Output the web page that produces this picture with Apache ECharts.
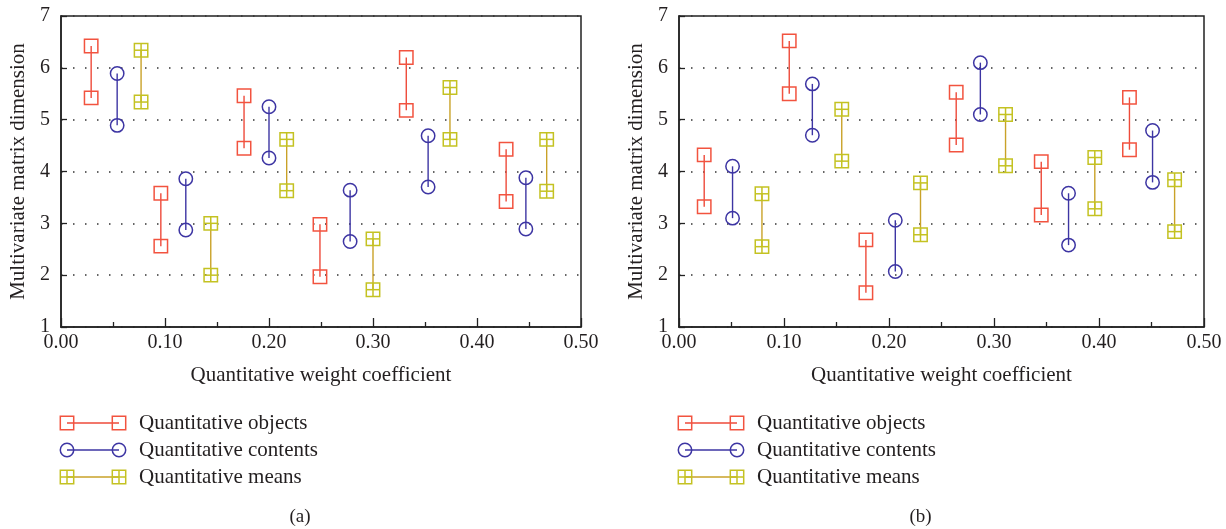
<!DOCTYPE html>
<html>
<head>
<meta charset="utf-8">
<script src="https://cdn.jsdelivr.net/npm/echarts@6/dist/echarts.min.js"></script>
<style>
  html, body { margin: 0; padding: 0; background: #fff; }
  #chart { width: 1226px; height: 529px; }
</style>
</head>
<body>
<div id="chart"></div>
<script>
// panel (a)
const objX_a  = [0.029, 0.096, 0.176, 0.249, 0.332, 0.428];
const objHi_a = [6.42, 3.58, 5.46, 2.98, 6.20, 4.43];
const objLo_a = [5.42, 2.56, 4.45, 1.97, 5.18, 3.42];
const conX_a  = [0.054, 0.120, 0.200, 0.278, 0.353, 0.447];
const conHi_a = [5.89, 3.86, 5.25, 3.64, 4.69, 3.88];
const conLo_a = [4.89, 2.87, 4.26, 2.65, 3.70, 2.89];
const meaX_a  = [0.077, 0.144, 0.217, 0.300, 0.374, 0.467];
const meaHi_a = [6.34, 3.00, 4.62, 2.70, 5.62, 4.62];
const meaLo_a = [5.34, 2.00, 3.63, 1.72, 4.62, 3.62];

// panel (b)
const objX_b  = [0.024, 0.105, 0.178, 0.264, 0.345, 0.429];
const objHi_b = [4.32, 6.52, 2.68, 5.53, 4.19, 5.43];
const objLo_b = [3.32, 5.50, 1.66, 4.51, 3.16, 4.42];
const conX_b  = [0.051, 0.127, 0.206, 0.287, 0.371, 0.451];
const conHi_b = [4.10, 5.69, 3.06, 6.10, 3.58, 4.79];
const conLo_b = [3.10, 4.70, 2.07, 5.10, 2.58, 3.79];
const meaX_b  = [0.079, 0.155, 0.230, 0.311, 0.396, 0.472];
const meaHi_b = [3.57, 5.20, 3.78, 5.10, 4.27, 3.84];
const meaLo_b = [2.55, 4.20, 2.78, 4.11, 3.28, 2.84];

const seriesNames = ['Quantitative objects', 'Quantitative contents', 'Quantitative means'];
const panelLabels = ['(a)', '(b)'];

const FONT = 'Liberation Serif';
const INK = '#231f20';
const styles = [
  { shape: 'square', mark: '#f2533f', line: '#ee4a3a' },
  { shape: 'circle', mark: '#3d35a3', line: '#3d35a3' },
  { shape: 'cross',  mark: '#c4c222', line: '#c9a228' }
];
const grids = [
  { left: 61, top: 16, width: 520, height: 311 },
  { left: 679, top: 16, width: 525, height: 311 }
];

// one marker shape in pixel space
function marker(kind, cx, cy, color) {
  const s = 6.7;
  const st = { fill: 'none', stroke: color, lineWidth: 1.5 };
  if (kind === 'circle') {
    return [{ type: 'circle', shape: { cx, cy, r: s }, style: st }];
  }
  const box = { type: 'rect', shape: { x: cx - s, y: cy - s, width: 2 * s, height: 2 * s }, style: st };
  if (kind === 'square') return [box];
  return [
    box,
    { type: 'line', shape: { x1: cx - s, y1: cy, x2: cx + s, y2: cy }, style: st },
    { type: 'line', shape: { x1: cx, y1: cy - s, x2: cx, y2: cy + s }, style: st }
  ];
}

function pairSeries(idx, k, xs, hi, lo) {
  const sty = styles[k];
  return {
    type: 'custom',
    name: seriesNames[k],
    xAxisIndex: idx,
    yAxisIndex: idx,
    data: xs.map((x, i) => [x, hi[i], lo[i]]),
    encode: { x: 0, y: [1, 2] },
    renderItem: (params, api) => {
      const top = api.coord([api.value(0), api.value(1)]);
      const bot = api.coord([api.value(0), api.value(2)]);
      return {
        type: 'group',
        children: [
          { type: 'line', shape: { x1: top[0], y1: top[1], x2: bot[0], y2: bot[1] },
            style: { stroke: sty.line, lineWidth: 1.4 } },
          ...marker(sty.shape, top[0], top[1], sty.mark),
          ...marker(sty.shape, bot[0], bot[1], sty.mark)
        ]
      };
    }
  };
}

function xAxisOf(idx) {
  return {
    gridIndex: idx,
    type: 'value',
    min: 0, max: 0.5, interval: 0.1,
    name: 'Quantitative weight coefficient',
    nameLocation: 'middle',
    nameGap: 38,
    nameTextStyle: { fontFamily: FONT, fontSize: 21, color: INK },
    axisLine: { show: true, lineStyle: { color: '#222', width: 1.5 } },
    axisTick: { inside: true, length: 9, lineStyle: { color: '#222', width: 1.3 } },
    minorTick: { show: true, splitNumber: 2, length: 5, lineStyle: { color: '#222', width: 1.3 } },
    axisLabel: { formatter: v => v.toFixed(2), fontFamily: FONT, fontSize: 20, color: INK, margin: 6 },
    splitLine: { show: false }
  };
}

function yAxisOf(idx) {
  return {
    gridIndex: idx,
    type: 'value',
    min: 1, max: 7, interval: 1,
    name: 'Multivariate matrix dimension',
    nameLocation: 'middle',
    nameGap: 32,
    nameTextStyle: { fontFamily: FONT, fontSize: 21, color: INK },
    axisLine: { show: true, lineStyle: { color: '#222', width: 1.5 } },
    axisTick: { inside: true, length: 6, lineStyle: { color: '#222', width: 1.3 } },
    axisLabel: { fontFamily: FONT, fontSize: 20, color: INK, margin: 11 },
    splitLine: { show: true, lineStyle: { color: '#333', width: 1.5, type: [1.5, 10.5] } }
  };
}

// legend + panel captions
const graphics = [];
grids.forEach((g, idx) => {
  const rows = [423, 450, 477];
  rows.forEach((y, k) => {
    const sty = styles[k];
    const x1 = g.left + 6, x2 = g.left + 58;
    graphics.push({ type: 'line', shape: { x1, y1: y, x2, y2: y }, style: { stroke: sty.line, lineWidth: 1.4 } });
    marker(sty.shape, x1, y, sty.mark).forEach(m => graphics.push(m));
    marker(sty.shape, x2, y, sty.mark).forEach(m => graphics.push(m));
    graphics.push({
      type: 'text', x: g.left + 78, y,
      style: { text: seriesNames[k], font: '21px "' + FONT + '"', fill: INK, verticalAlign: 'middle' }
    });
  });
  graphics.push({
    type: 'text', x: g.left + g.width / 2 - 21, y: 517,
    style: { text: panelLabels[idx], font: '19px "' + FONT + '"', fill: INK, align: 'center', verticalAlign: 'middle' }
  });
});

const chart = echarts.init(document.getElementById('chart'), null, { renderer: 'canvas' });
chart.setOption({
  backgroundColor: '#fff',
  animation: false,
  grid: grids.map(g => Object.assign({ show: true, borderColor: '#222', borderWidth: 1.5, containLabel: false }, g)),
  xAxis: [xAxisOf(0), xAxisOf(1)],
  yAxis: [yAxisOf(0), yAxisOf(1)],
  series: [
    pairSeries(0, 0, objX_a, objHi_a, objLo_a),
    pairSeries(0, 1, conX_a, conHi_a, conLo_a),
    pairSeries(0, 2, meaX_a, meaHi_a, meaLo_a),
    pairSeries(1, 0, objX_b, objHi_b, objLo_b),
    pairSeries(1, 1, conX_b, conHi_b, conLo_b),
    pairSeries(1, 2, meaX_b, meaHi_b, meaLo_b)
  ],
  graphic: graphics
});
</script>
</body>
</html>
